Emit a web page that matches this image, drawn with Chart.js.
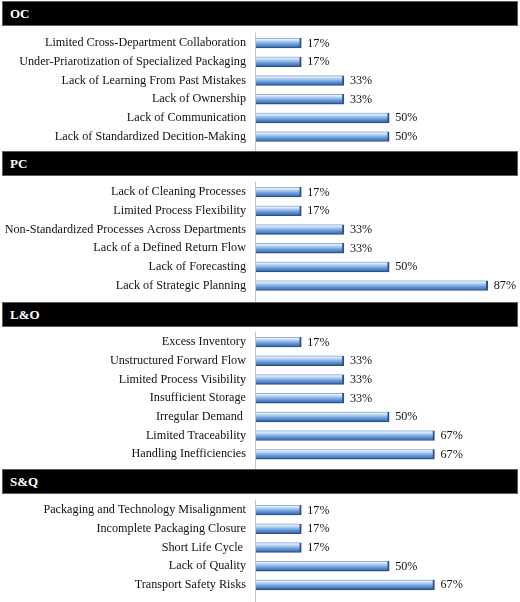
<!DOCTYPE html>
<html>
<head>
<meta charset="utf-8">
<script src="https://cdn.jsdelivr.net/npm/chart.js@4.4.1/dist/chart.umd.min.js"></script>
<style>
  body { margin: 0; background: #fff; }
  #wrap { position: relative; width: 520px; height: 602px; overflow: hidden; }
  .head {
    position: absolute; left: 2px; width: 516px; height: 25px;
    box-sizing: border-box; background: #000; border: 1px solid #5a5a5a;
    color: #fff; font: bold 13px "Liberation Serif", "Times New Roman", serif;
    line-height: 23px; padding-left: 7px;
  }
  .box { position: absolute; left: 0; width: 520px; }
</style>
</head>
<body>
<div id="wrap"></div>
<script>
const ocLabels = [
  'Limited Cross-Department Collaboration',
  'Under-Priarotization of Specialized Packaging',
  'Lack of Learning From Past Mistakes',
  'Lack of Ownership',
  'Lack of Communication',
  'Lack of Standardized Decition-Making'
];
const ocValues = [17, 17, 33, 33, 50, 50];

const pcLabels = [
  'Lack of Cleaning Processes',
  'Limited Process Flexibility',
  'Non-Standardized Processes Across Departments',
  'Lack of a Defined Return Flow',
  'Lack of Forecasting',
  'Lack of Strategic Planning'
];
const pcValues = [17, 17, 33, 33, 50, 87];

const loLabels = [
  'Excess Inventory',
  'Unstructured Forward Flow',
  'Limited Process Visibility',
  'Insufficient Storage',
  'Irregular Demand ',
  'Limited Traceability',
  'Handling Inefficiencies'
];
const loValues = [17, 33, 33, 33, 50, 67, 67];

const sqLabels = [
  'Packaging and Technology Misalignment',
  'Incomplete Packaging Closure',
  'Short Life Cycle ',
  'Lack of Quality',
  'Transport Safety Risks'
];
const sqValues = [17, 17, 17, 50, 67];

const groupNames = ['OC', 'PC', 'L&O', 'S&Q'];

// layout (pixels)
const ROW = 18.7;
const BAR = 10;
const headTops = [1, 151, 302, 469];
const firstRows = [43, 192, 342, 510];
const FONT = '"Liberation Serif", "Times New Roman", serif';

const groups = [
  [ocLabels, ocValues],
  [pcLabels, pcValues],
  [loLabels, loValues],
  [sqLabels, sqValues]
];

const axisLine = {
  id: 'axisLine',
  beforeDatasetsDraw(chart) {
    const { ctx, chartArea, height } = chart;
    const x = Math.round(chartArea.left) - 0.5;
    ctx.save();
    ctx.strokeStyle = '#c4c4c4';
    ctx.lineWidth = 1;
    ctx.beginPath();
    ctx.moveTo(x, chartArea.top - 1);
    ctx.lineTo(x, height);
    ctx.stroke();
    ctx.restore();
  }
};

const valueLabels = {
  id: 'valueLabels',
  afterDatasetsDraw(chart) {
    const { ctx } = chart;
    const values = chart.data.datasets[0].data;
    ctx.save();
    ctx.font = '12.2px ' + FONT;
    ctx.fillStyle = '#111';
    ctx.textBaseline = 'middle';
    chart.getDatasetMeta(0).data.forEach((bar, i) => {
      ctx.fillText(values[i] + '%', bar.x + 6, bar.y + 0.5);
    });
    ctx.restore();
  }
};

function barFill(context) {
  const chart = context.chart;
  if (!chart.chartArea) return '#6d9edd';
  const y = chart.scales.y.getPixelForValue(context.dataIndex);
  const g = chart.ctx.createLinearGradient(0, y - BAR / 2, 0, y + BAR / 2);
  g.addColorStop(0, '#7099cf');
  g.addColorStop(0.14, '#e4eefb');
  g.addColorStop(0.32, '#b7d1f2');
  g.addColorStop(0.6, '#6d9edd');
  g.addColorStop(0.85, '#4677bd');
  g.addColorStop(1, '#26467a');
  return g;
}

const wrap = document.getElementById('wrap');

groups.forEach(([labels, values], gi) => {
  const head = document.createElement('div');
  head.className = 'head';
  head.style.top = headTops[gi] + 'px';
  head.textContent = groupNames[gi];
  wrap.appendChild(head);

  const top = headTops[gi] + 25;
  const bottom = gi < 3 ? headTops[gi + 1] : 602;
  const padTop = firstRows[gi] - ROW / 2 - top;
  const h = bottom - top;
  const padBottom = h - padTop - ROW * labels.length;

  const box = document.createElement('div');
  box.className = 'box';
  box.style.top = top + 'px';
  box.style.height = h + 'px';
  const canvas = document.createElement('canvas');
  box.appendChild(canvas);
  wrap.appendChild(box);

  new Chart(canvas, {
    type: 'bar',
    data: {
      labels: labels,
      datasets: [{
        data: values,
        backgroundColor: barFill,
        borderColor: '#2b4f86',
        borderWidth: { top: 0, right: 2, bottom: 1, left: 0 },
        borderSkipped: 'start',
        barThickness: BAR
      }]
    },
    options: {
      indexAxis: 'y',
      responsive: true,
      maintainAspectRatio: false,
      animation: false,
      layout: { padding: { top: padTop, bottom: padBottom, left: 0, right: 3 } },
      plugins: {
        legend: { display: false },
        tooltip: { enabled: false }
      },
      scales: {
        x: { display: false, min: 0, max: 98 },
        y: {
          grid: { display: false, drawTicks: false },
          border: { display: false },
          ticks: {
            color: '#111',
            padding: 10,
            font: { family: FONT, size: 12.2 }
          },
          afterFit(scale) {
            scale.width = 256;
            scale.paddingTop = 0;
            scale.paddingBottom = 0;
          }
        }
      }
    },
    plugins: [axisLine, valueLabels]
  });
});
</script>
</body>
</html>
